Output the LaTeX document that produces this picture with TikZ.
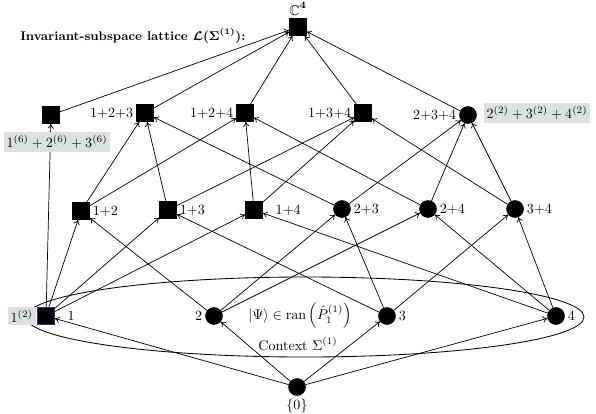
\documentclass[tikz,border=0pt]{standalone}
\usepackage{amsmath,amssymb,bm}
\usepackage{xcolor}
\usepackage{tikz}
\usetikzlibrary{arrows.meta,positioning}
\definecolor{boxgrey}{HTML}{DCE0DE}
\definecolor{nodeblue}{HTML}{2A3490}
\tikzset{
    sqnode/.style={rectangle, draw=black, fill=black, minimum size=17*0.025cm, inner sep=0},
    dotnode/.style={circle, draw=black, fill=black, minimum size=17*0.025cm, inner sep=0},
    lbl/.style={font=\normalsize, inner sep=2pt},
    greybox/.style={rectangle, fill=boxgrey, inner sep=2pt, align=center},
    edge/.style={-{To[length=1.2mm,width=1.6mm]}, line width=0.5pt},
    ctx/.style={line width=0.6pt},
}

\begin{document}
\begin{tikzpicture}[x=0.025cm, y=-0.025cm]
    \useasboundingbox (0,0) rectangle (596,413);

    % context ellipse
    \draw[ctx] (305,317) ellipse [x radius=279, y radius=40];

    % top and title
    \node[sqnode, label={[lbl]above:$\bm{\mathbb{C}^4}$}] (top) at (298,27) {};
    \node[font=\small\bfseries, anchor=west, inner sep=0] (title) at (20,36) {Invariant-subspace lattice $\bm{\mathcal{L}(\Sigma^{(1)})}$:};

    % three-dimensional
    \node[sqnode] (nx) at (51,115) {};
    \node[sqnode, label={[lbl]left:1+2+3}] (n123) at (145,113) {};
    \node[sqnode, label={[lbl]left:1+2+4}] (n124) at (245,113) {};
    \node[sqnode, label={[lbl]left:1+3+4}] (n134) at (363,113) {};
    \node[dotnode, label={[lbl]left:2+3+4}] (n234) at (468,115) {};

    % two-dimensional
    \node[sqnode, label={[lbl]right:1+2}] (n12) at (81,211) {};
    \node[sqnode, label={[lbl]right:1+3}] (n13) at (168,210) {};
    \node[sqnode, label={[lbl, xshift=7pt]right:1+4}] (n14) at (254,210) {};
    \node[dotnode, label={[lbl]right:2+3}] (n23) at (342,209) {};
    \node[dotnode, label={[lbl]right:2+4}] (n24) at (428,209) {};
    \node[dotnode, label={[lbl]right:3+4}] (n34) at (515,209) {};

    % one-dimensional
    \node[sqnode, draw=nodeblue, label={[lbl, xshift=7pt]right:1}] (n1) at (46,316) {};
    \node[dotnode, label={[lbl]left:2}] (n2) at (214,316) {};
    \node[dotnode, label={[lbl]right:3}] (n3) at (387,316) {};
    \node[dotnode, label={[lbl]right:4}] (n4) at (556,316) {};
    \node[inner sep=0] (psi) at (300,316) {$|\Psi\rangle\in\mathrm{ran}\left(\hat{P}_1^{(1)}\right)$};
    \node[inner sep=0] (context) at (298,344) {Context $\Sigma^{(1)}$};

    % zero
    \node[dotnode, label={[lbl]below:$\{0\}$}] (z) at (297,387) {};

    \foreach \a/\b in {z/n1, z/n2, z/n3, z/n4,
        n1/n12, n1/n13, n1/n14, n2/n12, n2/n23, n2/n24,
        n3/n13, n3/n23, n3/n34, n4/n14, n4/n24, n4/n34,
        n12/n123, n12/n124, n13/n123, n13/n134, n14/n124, n14/n134,
        n23/n123, n23/n234, n24/n124, n24/n234, n34/n134, n34/n234,
        n1/nx, nx/top, n123/top, n124/top, n134/top, n234/top} {
        \draw[edge] (\a) -- (\b);
    }

    % multiplicity boxes
    \node[greybox] (mx) at (57,142) {$1^{(6)}+2^{(6)}+3^{(6)}$};
    \node[greybox] (m234) at (537,113) {$2^{(2)}+3^{(2)}+4^{(2)}$};
    \node[greybox, left=1pt of n1] (m1) {$1^{(2)}$};
\end{tikzpicture}
\end{document}
